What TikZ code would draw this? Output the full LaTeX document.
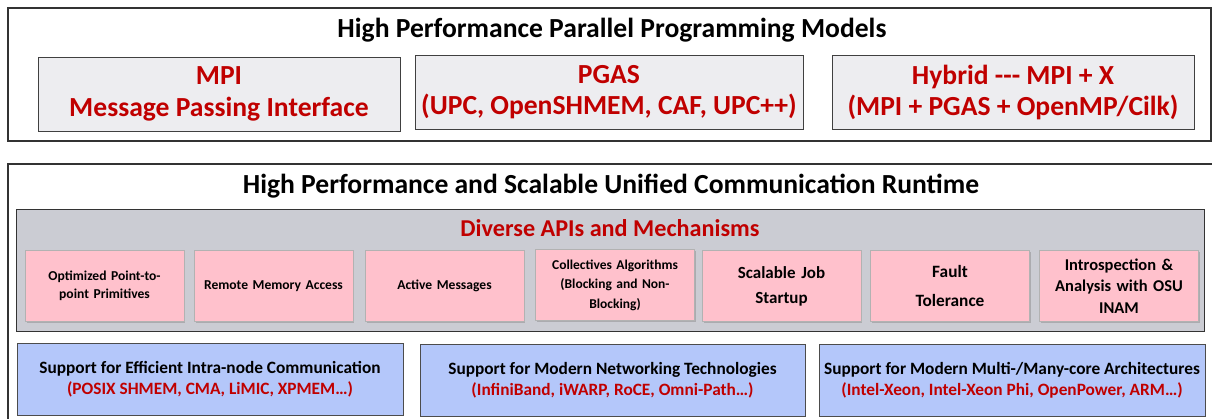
\documentclass[tikz,border=0pt]{standalone}
\usepackage{fontspec}
\setmainfont{Carlito}
\usepackage{xcolor}
\usetikzlibrary{positioning,shadows}

\definecolor{mvred}{HTML}{C00000}
\definecolor{boxgray}{HTML}{EDEDF0}
\definecolor{apigray}{HTML}{CBCCD3}
\definecolor{apipink}{HTML}{FFC1CC}
\definecolor{supblue}{HTML}{B4C7FA}

\tikzset{
  frame/.style={draw=black!80, line width=1.2pt},
  model/.style={draw=black!75, fill=boxgray, line width=1pt, minimum height=74, align=center,
    text=mvred, font=\fontsize{27.6}{31.5}\selectfont\bfseries},
  api/.style={draw=black!30, fill=apipink, minimum width=157, minimum height=71, text width=152,
    align=center, drop shadow={shadow xshift=1.5pt, shadow yshift=-1.5pt, fill=black!45}},
  support/.style={draw=black!70, fill=supblue, line width=0.8pt, minimum height=72, align=center,
    font=\fontsize{17.3}{21}\selectfont\bfseries},
}

\begin{document}
\begin{tikzpicture}[x=1pt, y=-1pt]
    \useasboundingbox (0,0) rectangle (1212,418);
    % Programming models
    \draw[frame] (8,8) rectangle (1211,141);
    \node[font=\fontsize{27.6}{32}\selectfont\bfseries] (modtitle) at (612,30) {High Performance Parallel Programming Models};
    \node[model, minimum width=362] (mpi) at (219,94) {MPI\\Message Passing Interface};
    \node[model, minimum width=388] (pgas) at (609,92) {PGAS\\(UPC, OpenSHMEM, CAF, UPC++)};
    \node[model, minimum width=362] (hybrid) at (1013,92.5) {Hybrid -{}-{}- MPI + X\\(MPI + PGAS + OpenMP/Cilk)};

    % Runtime
    \draw[frame] (8,164) rectangle (1213,430);
    \node[font=\fontsize{27.6}{32}\selectfont\bfseries] (rttitle) at (611,186) {High Performance and Scalable Unified Communication Runtime};
    \draw[draw=black!80, fill=apigray, line width=1pt] (16,209) rectangle (1204,331);
    \node[text=mvred, font=\fontsize{24.2}{28}\selectfont\bfseries] (apititle) at (610,228) {Diverse APIs and Mechanisms};

    \node[api, font=\fontsize{13.6}{18}\selectfont\bfseries] (ptp) at (104.5,286) {Optimized Point-to-\\point Primitives};
    \node[api, font=\fontsize{13.6}{18}\selectfont\bfseries] (rma) at (273.5,286) {Remote Memory Access};
    \node[api, font=\fontsize{13.6}{18}\selectfont\bfseries] (am) at (444.5,286) {Active Messages};
    \node[api, font=\fontsize{13.5}{19.5}\selectfont\bfseries] (coll) at (615,285) {Collectives Algorithms\\(Blocking and Non-\\Blocking)};
    \node[api, font=\fontsize{17}{25}\selectfont\bfseries] (job) at (781.5,286) {Scalable Job\\Startup};
    \node[api, font=\fontsize{17.3}{29}\selectfont\bfseries] (ft) at (950,286) {Fault\\Tolerance};
    \node[api, font=\fontsize{16.5}{21.5}\selectfont\bfseries] (inam) at (1119,286) {Introspection \&\\Analysis with OSU\\INAM};

    % Support layer
    \node[support, minimum width=386] (intra) at (210,379) {Support for Efficient Intra-node Communication\\\textcolor{mvred}{(POSIX SHMEM, CMA, LiMIC, XPMEM…)}};
    \node[support, minimum width=385] (net) at (612.5,380) {Support for Modern Networking Technologies\\\textcolor{mvred}{(InfiniBand, iWARP, RoCE, Omni-Path…)}};
    \node[support, minimum width=386] (arch) at (1012,380) {Support for Modern Multi-/Many-core Architectures\\\textcolor{mvred}{(Intel-Xeon, Intel-Xeon Phi, OpenPower, ARM…)}};
\end{tikzpicture}
\end{document}
